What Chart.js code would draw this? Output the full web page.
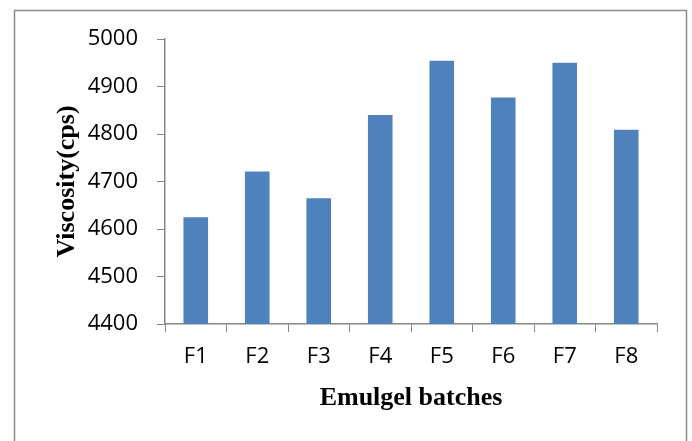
<!DOCTYPE html>
<html>
<head>
<meta charset="utf-8">
<script src="https://cdn.jsdelivr.net/npm/chart.js@4/dist/chart.umd.min.js"></script>
<style>
  html, body { margin: 0; padding: 0; background: #fff; }
  #wrap { width: 692px; height: 441px; position: relative; }
</style>
</head>
<body>
<div id="wrap"><canvas id="chart" width="692" height="441"></canvas></div>
<script>
const batches = ["F1", "F2", "F3", "F4", "F5", "F6", "F7", "F8"];
const viscosity = [4625, 4721, 4665, 4840, 4954, 4877, 4950, 4809];
const yMin = 4400;
const yMax = 5000;
const yStep = 100;

const axisGray = "#868686";
const tickFont = { family: "'Open Sans', 'Liberation Sans', sans-serif", size: 22 };
const titleFont = { family: "'Liberation Serif', 'DejaVu Serif', serif", size: 26, weight: "bold" };

// outer frame of the figure (open at the bottom like the original)
const framePlugin = {
  id: "frame",
  beforeDraw(chart) {
    const ctx = chart.ctx;
    ctx.save();
    ctx.strokeStyle = "#8c8c8c";
    ctx.lineWidth = 1.5;
    ctx.beginPath();
    ctx.moveTo(14.5, 460);
    ctx.lineTo(14.5, 10.5);
    ctx.lineTo(686.5, 10.5);
    ctx.lineTo(686.5, 460);
    ctx.stroke();
    ctx.restore();
  },
};

new Chart(document.getElementById("chart"), {
  type: "bar",
  data: {
    labels: batches,
    datasets: [{
      label: "Viscosity",
      data: viscosity,
      backgroundColor: "#4F81BD",
      borderWidth: 0,
      categoryPercentage: 1,
      barPercentage: 0.4,
    }],
  },
  options: {
    responsive: false,
    animation: false,
    layout: { padding: { left: 40, right: 35, top: 39, bottom: 27 } },
    plugins: {
      legend: { display: false },
      tooltip: { enabled: false },
    },
    scales: {
      x: {
        grid: {
          display: true,
          drawOnChartArea: false,
          drawTicks: true,
          tickLength: 8,
          color: axisGray,
          offset: true,
        },
        border: { color: axisGray, width: 1.5 },
        ticks: {
          color: "#000",
          padding: 12,
          font: tickFont,
        },
        title: {
          display: true,
          text: "Emulgel batches",
          color: "#000",
          padding: { top: 0, bottom: 0 },
          font: titleFont,
        },
        afterFit(scale) { scale.height = 90; },
      },
      y: {
        min: yMin,
        max: yMax,
        grid: {
          display: true,
          drawOnChartArea: false,
          drawTicks: true,
          tickLength: 8,
          color: axisGray,
        },
        border: { color: axisGray, width: 1.5 },
        ticks: {
          stepSize: yStep,
          color: "#000",
          padding: 19,
          font: tickFont,
          callback: (v) => String(v),
        },
        title: {
          display: true,
          text: "Viscosity(cps)",
          color: "#000",
          padding: { top: 12, bottom: 0 },
          font: titleFont,
        },
        afterFit(scale) { scale.width = 125; },
      },
    },
  },
  plugins: [framePlugin],
});
</script>
</body>
</html>
